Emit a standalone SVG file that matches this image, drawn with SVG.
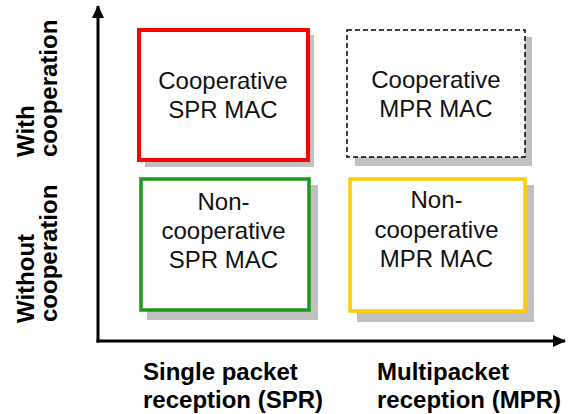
<svg xmlns="http://www.w3.org/2000/svg" width="574" height="414" viewBox="0 0 574 414">
  <style>
    .shadow { fill: #c0c0c0; stroke: none; }
    .box { fill: #ffffff; }
    .btxt { font-family: "Liberation Sans", Arial, sans-serif; font-size: 24px; fill: #111111; text-anchor: middle; }
    .atxt { font-family: "Liberation Sans", Arial, sans-serif; font-size: 24px; font-weight: bold; fill: #000000; }
    .axis { stroke: #000000; stroke-width: 3; fill: none; }
  </style>
  <defs>
    <marker id="arrow" markerUnits="userSpaceOnUse" markerWidth="14" markerHeight="14" refX="12" refY="6" orient="auto">
      <path d="M0,0 L13,6 L0,12 Z" fill="#000000"/>
    </marker>
  </defs>
  <rect width="574" height="414" fill="#ffffff"/>

  <g id="connectors">
    <line class="axis" x1="98" y1="342.5" x2="98" y2="6" marker-end="url(#arrow)"/>
    <line class="axis" x1="96.5" y1="341" x2="565" y2="341" marker-end="url(#arrow)"/>
  </g>

  <g id="coop-spr">
    <rect class="shadow" x="145" y="35" width="169" height="132"/>
    <rect class="box" x="139" y="30" width="169" height="130" stroke="#ff0000" stroke-width="4"/>
    <text class="btxt" x="223" y="89">Cooperative</text>
    <text class="btxt" x="223" y="118">SPR MAC</text>
  </g>

  <g id="coop-mpr">
    <rect class="shadow" x="355" y="37" width="177" height="129"/>
    <rect class="box" x="347" y="30" width="178" height="127" stroke="#000000" stroke-width="1.5" stroke-dasharray="5,3"/>
    <text class="btxt" x="436" y="88">Cooperative</text>
    <text class="btxt" x="436" y="117">MPR MAC</text>
  </g>

  <g id="noncoop-spr">
    <rect class="shadow" x="147" y="185" width="171" height="135"/>
    <rect class="box" x="141" y="179" width="168" height="131" stroke="#1a9a1a" stroke-width="3.5"/>
    <text class="btxt" x="223.5" y="210">Non-</text>
    <text class="btxt" x="223.5" y="239">cooperative</text>
    <text class="btxt" x="223.5" y="268">SPR MAC</text>
  </g>

  <g id="noncoop-mpr">
    <rect class="shadow" x="357" y="185" width="177" height="137"/>
    <rect class="box" x="350" y="179" width="175" height="132" stroke="#ffcc00" stroke-width="3.5"/>
    <text class="btxt" x="436.5" y="208">Non-</text>
    <text class="btxt" x="436.5" y="238">cooperative</text>
    <text class="btxt" x="436.5" y="267">MPR MAC</text>
  </g>

  <g id="label-with">
    <text class="atxt" transform="translate(34,157) rotate(-90)">With</text>
    <text class="atxt" transform="translate(57,157) rotate(-90)">cooperation</text>
  </g>

  <g id="label-without">
    <text class="atxt" transform="translate(34,323) rotate(-90)">Without</text>
    <text class="atxt" transform="translate(57,322) rotate(-90)">cooperation</text>
  </g>

  <g id="label-spr">
    <text class="atxt" x="143" y="380">Single packet</text>
    <text class="atxt" x="143" y="408">reception (SPR)</text>
  </g>

  <g id="label-mpr">
    <text class="atxt" x="377" y="380">Multipacket</text>
    <text class="atxt" x="377" y="408">reception (MPR)</text>
  </g>
</svg>
